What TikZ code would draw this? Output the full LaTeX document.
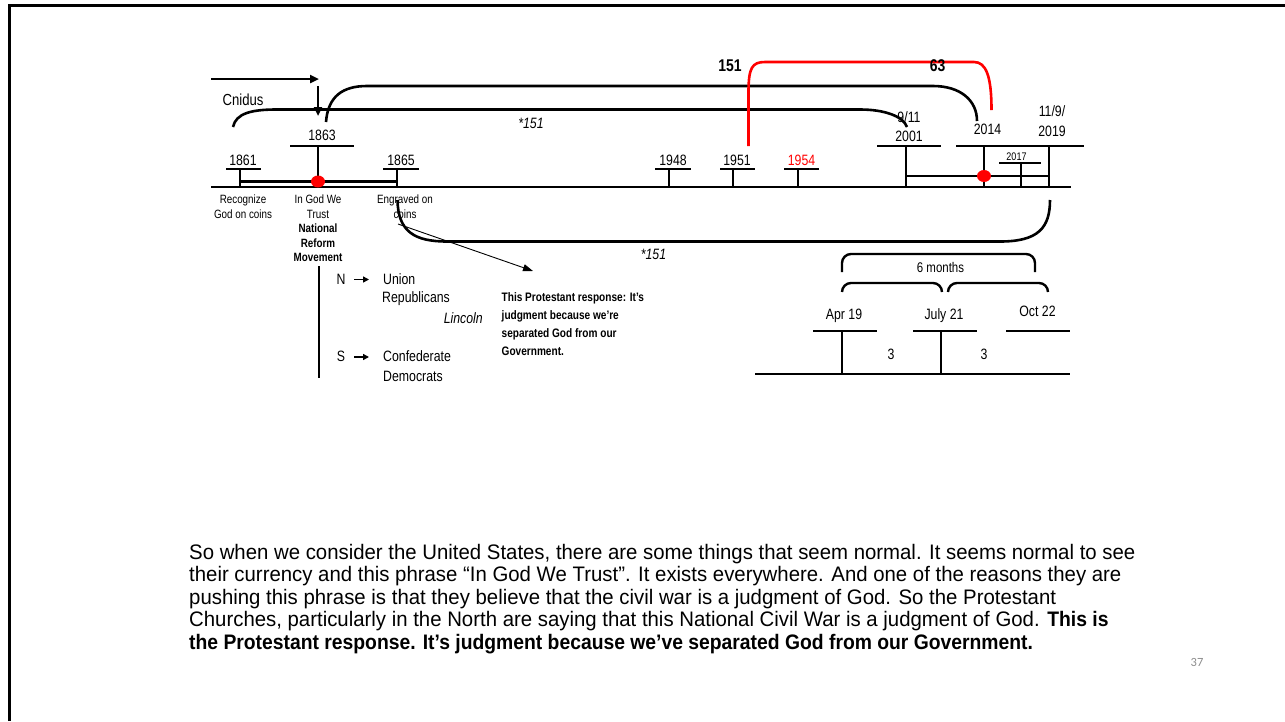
\documentclass[tikz,border=0pt]{standalone}
\usepackage{fontspec}
\setmainfont{Liberation Sans}[FakeStretch=0.82]
\newfontfamily\bodyfont{Liberation Sans}[FakeStretch=0.97, BoldFeatures={FakeStretch=0.92}]
\newfontfamily\calib{Carlito}
\usetikzlibrary{arrows.meta}
\definecolor{pgrey}{HTML}{8C8C8C}
\begin{document}
\begin{tikzpicture}[x=1pt,y=-1pt,
  thk/.style={line width=2.6pt},
  thn/.style={line width=0.9pt},
  lb/.style={inner sep=0pt, font=\fontsize{15}{18}\selectfont},
  lbb/.style={inner sep=0pt, font=\bfseries\fontsize{17}{20}\selectfont},
  sl/.style={inner sep=0pt, align=center, font=\fontsize{12}{15}\selectfont},
  slb/.style={inner sep=0pt, align=center, font=\bfseries\fontsize{12}{14.5}\selectfont},
  para/.style={inner sep=0pt, align=left, font=\bfseries\fontsize{12.3}{18}\selectfont},
  body/.style={inner sep=0pt, anchor=base west, font=\bodyfont\fontsize{21}{22.5}\selectfont},
  dot/.style={fill=red, draw=none},
  bigtip/.style={-{Triangle[length=9pt,width=8pt]}},
  smalltip/.style={-{Triangle[length=6pt,width=6pt]}},
  brk/.style={line width=2.4pt, rounded corners=9pt}
]
\useasboundingbox (0,0) rectangle (1285,721);
% frame
\draw[line width=3pt] (9.5,721) -- (9.5,5.5) -- (1285,5.5);

% ---------- main timeline ----------
\draw[thk] (211,187) -- (1071,187);
% double lines
\draw[thk] (240,181.5) -- (397,181.5);
\draw[thk] (906,176) -- (1049,176);

% 1861
\draw[thk] (226,169) -- (261,169) (240,169) -- (240,187);
\node[lb] (y1861) at (243,160) {1861};
% 1863
\draw[thk] (290,146) -- (354,146) (318,146) -- (318,187);
\node[lb] (y1863) at (322,135.5) {1863};
% 1865
\draw[thk] (383,169) -- (419,169) (397,169) -- (397,187);
\node[lb] (y1865) at (401,160) {1865};
% 1948 1951 1954
\draw[thk] (655,169) -- (691,169) (669,169) -- (669,187);
\node[lb] (y1948) at (673,160) {1948};
\draw[thk] (720,169) -- (755,169) (733,169) -- (733,187);
\node[lb] (y1951) at (737,160) {1951};
\draw[thk] (784,169) -- (819,169) (798,169) -- (798,187);
\node[lb, text=red] (y1954) at (801.5,160) {1954};
% 2001
\draw[thk] (877,146) -- (941,146) (906,146) -- (906,187);
\node[lb] (y911) at (909,117.5) {9/11};
\node[lb] (y2001) at (909,136) {2001};
% 2014 / 2019
\draw[thk] (956,146) -- (1084,146) (984,146) -- (984,187) (1049,146) -- (1049,187);
\node[lb] (y2014) at (987.5,129) {2014};
\node[lb] (y119) at (1052,111.5) {11/9/};
\node[lb] (y2019) at (1052,131) {2019};
% 2017
\draw[thk] (999,163) -- (1041,163) (1021,163) -- (1021,187);
\node[inner sep=0pt, font=\fontsize{11}{13}\selectfont] (y2017) at (1016.5,156.5) {2017};
% red dots
\fill[dot] (318,181.5) ellipse [x radius=7, y radius=6];
\fill[dot] (984,176) ellipse [x radius=7, y radius=6];

% labels under timeline
\node[sl] (recog) at (243,206.5) {Recognize\\God on coins};
\node[sl] (igwt) at (318,206.5) {In God We\\Trust};
\node[slb] (nrm) at (318,243) {National\\Reform\\Movement};
\node[sl] (engr) at (405,206.5) {Engraved on\\coins};

% ---------- top arrows and arcs ----------
\coordinate (ha) at (211,79);
\coordinate (hb) at (319,79);
\draw[thk, bigtip] (ha) -- (hb);
\coordinate (va) at (318,86);
\coordinate (vb) at (318,116);
\draw[thk, bigtip] (va) -- (vb);
\node[inner sep=0pt, font=\fontsize{16}{18}\selectfont] (cnidus) at (243,100) {Cnidus};

\draw[thk] (233,127) .. controls (236,113) and (252,109.5) .. (277,109.5) -- (860,109.5)
  .. controls (884,109.5) and (903,116) .. (907,127);
\draw[thk] (326,122) .. controls (328,96) and (343,86) .. (367,86) -- (933,86)
  .. controls (960,86) and (977,100) .. (977,121);
\node[inner sep=0pt, font=\itshape\fontsize{15}{18}\selectfont] (s151a) at (531,123) {*151};

% red arc
\draw[red, thk] (748.5,146) -- (748.5,92) .. controls (748.5,68) and (752,62) .. (765,62) -- (974,62)
  .. controls (986,62) and (991.5,76) .. (991.5,110);
\node[lbb] (n151) at (730,66) {151};
\node[lbb] (n63) at (937.5,66) {63};

% ---------- lower arc ----------
\draw[thk] (397.5,200) .. controls (398,232) and (415,241.5) .. (447,241.5) -- (1000,241.5)
  .. controls (1038,241.5) and (1050,228) .. (1050,200);
\node[inner sep=0pt, font=\itshape\fontsize{15}{18}\selectfont] (s151b) at (653.5,254) {*151};
\coordinate (ta) at (398,224);
\coordinate (tb) at (533,271);
\draw[thn, -{Triangle[length=10pt,width=7pt]}] (ta) -- (tb);

% ---------- N / S ----------
\draw[thk] (319,266) -- (319,378);
\node[lb] (nN) at (341,279) {N};
\draw[line width=1.8pt, smalltip] (354,279.5) -- (369,279.5);
\node[lb, anchor=west] (union) at (383,279) {Union};
\node[lb, anchor=west] (repub) at (382,299) {Republicans};
\node[lb, anchor=east, font=\itshape\fontsize{15}{18}\selectfont] (linc) at (483,318.5) {Lincoln};
\node[lb] (nS) at (341,356.5) {S};
\draw[line width=1.8pt, smalltip] (354,357) -- (369,357);
\node[lb, anchor=west] (conf) at (383,356.5) {Confederate};
\node[lb, anchor=west] (demo) at (383,376) {Democrats};

\node[para, anchor=north west] (resp) at (501.5,292.5) {This Protestant response: It's\\judgment because we're\\separated God from our\\Government.};

% ---------- right lower timeline ----------
\draw[thk] (755,374) -- (1070,374);
\draw[thk] (813,331) -- (877,331) (842,331) -- (842,374);
\draw[thk] (913,331) -- (977,331) (941,331) -- (941,374);
\draw[thk] (1006,331) -- (1070,331);
\node[lb] (apr) at (844,316) {Apr 19};
\node[lb] (jul) at (944,316) {July 21};
\node[lb] (oct) at (1037.5,311) {Oct 22};
\node[lb] (three1) at (891,354) {3};
\node[lb] (three2) at (984,354) {3};
\draw[brk] (842,272) -- (842,254) -- (1035,254) -- (1035,272);
\node[inner sep=0pt, font=\fontsize{14}{16}\selectfont] (six) at (940.5,267.5) {6 months};
\draw[brk] (842,292) -- (842,283) -- (942,283) -- (942,292);
\draw[brk] (948,292) -- (948,283) -- (1048,283) -- (1048,292);

% ---------- body text ----------
\node[body] (b1) at (189,559) {So when we consider the United States, there are some things that seem normal. It seems normal to see};
\node[body] (b2) at (189,581.5) {their currency and this phrase “In God We Trust”. It exists everywhere. And one of the reasons they are};
\node[body] (b3) at (189,604) {pushing this phrase is that they believe that the civil war is a judgment of God. So the Protestant};
\node[body] (b4) at (189,626.5) {Churches, particularly in the North are saying that this National Civil War is a judgment of God. \textbf{This is}};
\node[body, font=\bodyfont\bfseries\fontsize{21}{22.5}\selectfont] (b5) at (189,649) {the Protestant response. It’s judgment because we’ve separated God from our Government.};

\node[inner sep=0pt, text=pgrey, font=\calib\fontsize{12.5}{14}\selectfont] (pg) at (1197,662) {37};
\end{tikzpicture}
\end{document}
